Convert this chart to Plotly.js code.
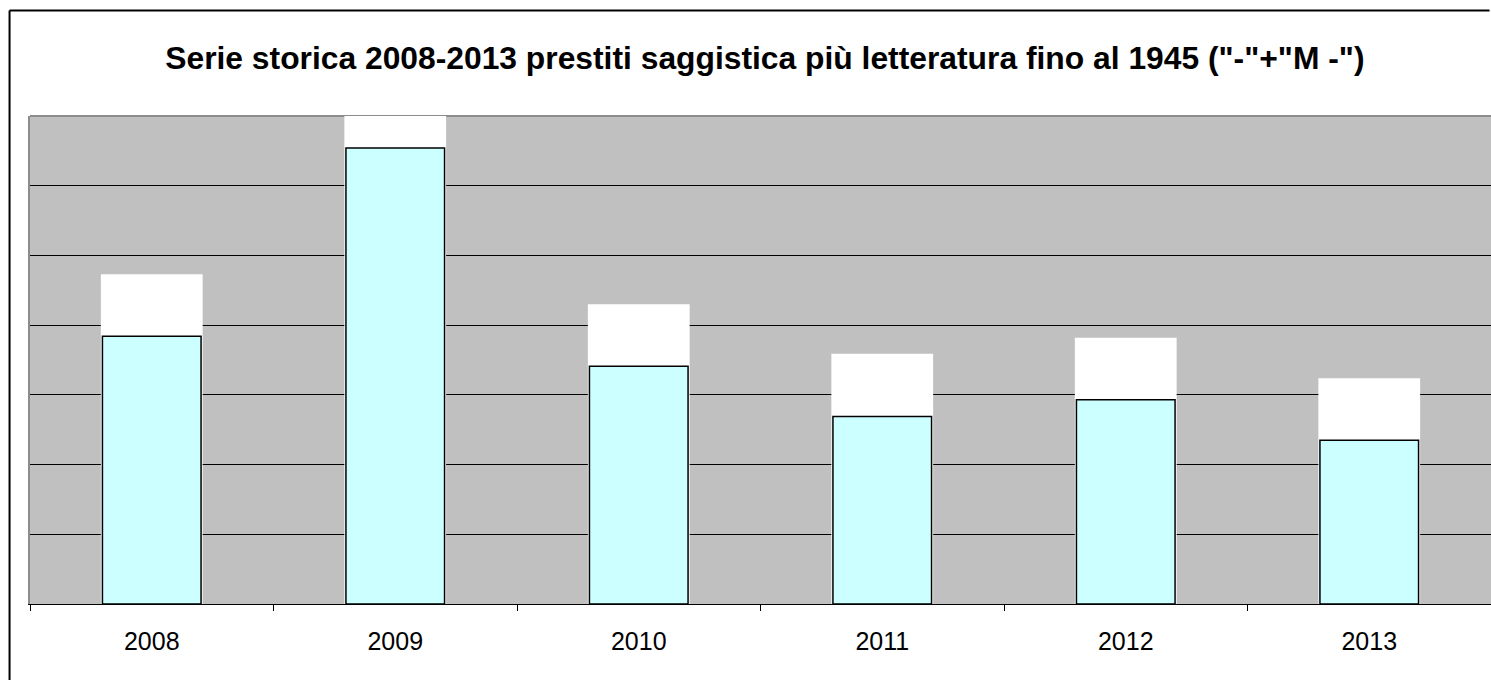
<!DOCTYPE html>
<html>
<head>
<meta charset="utf-8">
<script src="https://cdn.plot.ly/plotly-3.0.1.min.js"></script>
<style>html,body{margin:0;padding:0;background:#fff;overflow:hidden;}#chart{width:1491px;height:680px;}</style>
</head>
<body>
<div id="chart"></div>
<script>
// Data (units = one gridline step; the axis has no labels)
const years = ["2008", "2009", "2010", "2011", "2012", "2013"];
const saggistica = [3.84, 6.54, 3.41, 2.69, 2.93, 2.35];      // cyan bars
const totale = [4.73, 7.43, 4.30, 3.59, 3.82, 3.24];          // white bars behind
const titleText = 'Serie storica 2008-2013 prestiti saggistica più letteratura fino al 1945 ("-"+"M -")';
const gridVals = [1, 2, 3, 4, 5, 6];

const traces = [
  {
    type: 'bar', x: years, y: totale, width: 0.418,
    marker: {color: '#FFFFFF', line: {width: 0}},
    hoverinfo: 'skip', showlegend: false
  },
  {
    type: 'bar', x: years, y: saggistica, width: 0.405,
    marker: {color: '#CCFFFF', line: {color: '#000000', width: 1.5}},
    showlegend: false
  }
];

const layout = {
  width: 1491, height: 680,
  margin: {l: 30, r: 0, t: 116, b: 76, pad: 0},
  paper_bgcolor: '#FFFFFF',
  plot_bgcolor: '#C0C0C0',
  barmode: 'overlay',
  showlegend: false,
  font: {family: 'Liberation Sans, Arial, sans-serif', color: '#000'},
  title: {
    text: '<b>' + titleText + '</b>',
    font: {family: 'Liberation Sans, Arial, sans-serif', size: 31.8, color: '#000'},
    x: 0.503, xref: 'paper', xanchor: 'center',
    y: 59, yref: 'container', yanchor: 'middle'
  },
  xaxis: {
    type: 'category', range: [-0.5, 5.5], fixedrange: true,
    showline: true, linecolor: '#000', linewidth: 1,
    ticks: 'outside', tickson: 'boundaries', ticklen: 6, tickcolor: '#000', tickwidth: 1,
    tickfont: {size: 25, color: '#000'},
    ticklabelstandoff: 15,
    showgrid: false, zeroline: false
  },
  yaxis: {
    range: [0, 7], fixedrange: true,
    tickmode: 'array', tickvals: gridVals,
    showticklabels: false, ticks: '',
    showgrid: true, gridcolor: '#000', gridwidth: 1,
    zeroline: false,
    showline: true, linecolor: '#8C8C8C', linewidth: 2
  },
  shapes: [
    {type: 'line', xref: 'x domain', yref: 'y domain', x0: 0, x1: 1, y0: 1, y1: 1,
     line: {color: '#8C8C8C', width: 2}, layer: 'below'},
    {type: 'line', xref: 'paper', yref: 'paper', x0: -0.0140, x1: 0.999, y0: 1.2162, y1: 1.2162,
     line: {color: '#000', width: 2}, layer: 'above'},
    {type: 'line', xref: 'paper', yref: 'paper', x0: -0.0140, x1: -0.0140, y0: -0.3, y1: 1.2162,
     line: {color: '#000', width: 2}, layer: 'above'}
  ]
};

Plotly.newPlot('chart', traces, layout, {staticPlot: true, displayModeBar: false});
</script>
</body>
</html>
